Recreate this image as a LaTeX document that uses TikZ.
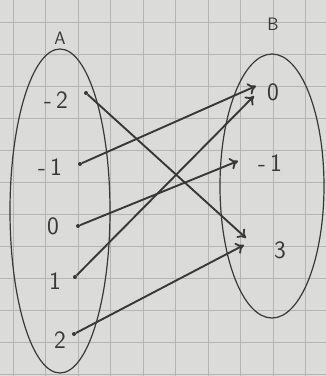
\documentclass[tikz,border=0pt]{standalone}
\usetikzlibrary{arrows.meta}
\definecolor{paper}{HTML}{DBDBD9}
\definecolor{gridc}{HTML}{B4B4B2}
\definecolor{pen}{HTML}{38383A}
\begin{document}
\begin{tikzpicture}[x=1pt,y=-1pt,
  lbl/.style={text=pen,font=\sffamily\fontsize{25}{28}\selectfont,inner sep=0pt},
  setlbl/.style={text=pen,font=\sffamily\fontsize{18}{20}\selectfont,inner sep=0pt},
  dotn/.style={circle,fill=pen,inner sep=0pt,minimum size=4pt},
  setline/.style={draw=pen,line width=1.2pt},
  mapsto/.style={draw=pen,line width=1.9pt,-{To[length=8pt,width=12pt,line width=1.8pt]}}]
\fill[paper] (0,0) rectangle (326,376);
\useasboundingbox (0,0) rectangle (326,376);
% grid paper
\foreach \gx in {13,45.5,78,110.5,143,175.5,208,240.5,273,305.5}
  \draw[gridc,line width=0.8pt] (\gx,0) -- (\gx,376);
\foreach \gy in {22,54,86,118,150,182,214,246,278,310,342,374}
  \draw[gridc,line width=0.8pt] (0,\gy) -- (326,\gy);
% sets
\draw[setline] (60,211) ellipse [x radius=50, y radius=162];
\draw[setline] (272,186) ellipse [x radius=52, y radius=132];
\node[setlbl] (A) at (60,38) {A};
\node[setlbl] (B) at (273,24) {B};
% elements of A
\node[lbl] (am2) at (56,100) {-\,2};
\node[lbl] (am1) at (50,167) {-\,1};
\node[lbl] (a0) at (53,226) {0};
\node[lbl] (a1) at (55,281) {1};
\node[lbl] (a2) at (60,340) {2};
\node[dotn] (dm2) at (86,93) {};
\node[dotn] (dm1) at (80,164) {};
\node[dotn] (d0) at (78,226) {};
\node[dotn] (d1) at (75,277) {};
\node[dotn] (d2) at (74,334) {};
% elements of B
\node[lbl] (b0) at (273,92) {0};
\node[lbl] (bm1) at (270,163) {-\,1};
\node[lbl] (b3) at (280,250) {3};
\coordinate (t0a) at (256,86);
\coordinate (t0b) at (254,96);
\coordinate (tm1) at (238,161);
\coordinate (t3a) at (246,238);
\coordinate (t3b) at (244,245);
% arrows
\draw[mapsto] (dm2) -- (t3a);
\draw[mapsto] (dm1) -- (t0a);
\draw[mapsto] (d0) -- (tm1);
\draw[mapsto] (d1) -- (t0b);
\draw[mapsto] (d2) -- (t3b);
\end{tikzpicture}
\end{document}
